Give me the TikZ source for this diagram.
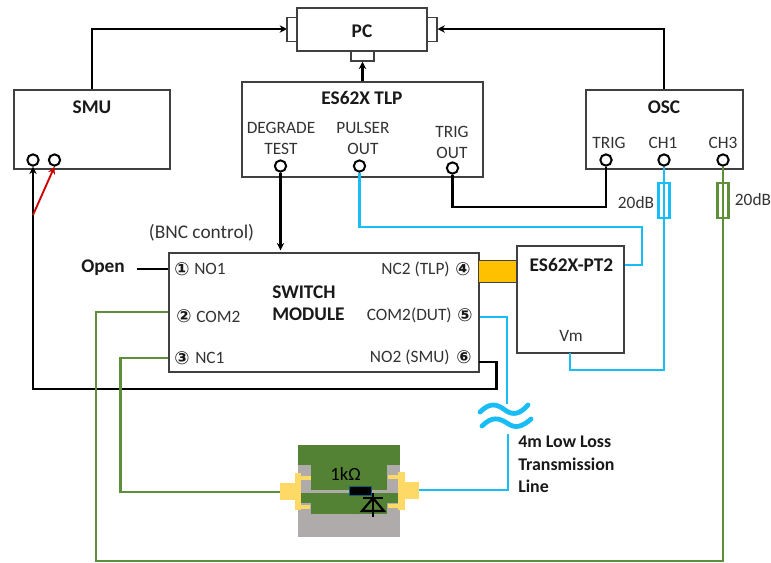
\documentclass[tikz,border=0pt]{standalone}
\usepackage{fontspec}
\setmainfont{Carlito}
\newfontfamily\symf{DejaVu Sans}
\usetikzlibrary{arrows.meta}
\definecolor{cy}{HTML}{19BDF5}
\definecolor{gr}{HTML}{5E8F3A}
\definecolor{pcb}{HTML}{548235}
\definecolor{gy}{HTML}{AFABAB}
\definecolor{au}{HTML}{FFD966}
\definecolor{or}{HTML}{FFC000}
\definecolor{bx}{HTML}{404040}
\newcommand{\circd}[1]{{\symf\bfseries\fontsize{13.5pt}{14pt}\selectfont #1}}
\tikzset{
 box/.style={draw=bx,line width=1.1pt,fill=white,inner sep=0pt},
 blk/.style={draw=black,line width=1.7pt},
 cyl/.style={draw=cy,line width=2.1pt},
 grl/.style={draw=gr,line width=1.8pt},
 term/.style={circle,draw=black,line width=1.5pt,fill=white,minimum size=8.5pt,inner sep=0pt},
 lab/.style={font=\fontsize{13pt}{15pt}\selectfont,text=black!80,inner sep=0pt},
 bold/.style={font=\fontsize{14.5pt}{17pt}\selectfont\bfseries,text=black!90,inner sep=0pt,align=center},
 tip/.style={-{Stealth[length=5.5pt,width=5.5pt]}},
 cnum/.style={inner sep=0pt,text=black!90}
}
\begin{document}
\begin{tikzpicture}[x=0.75pt,y=-0.75pt]
\useasboundingbox (0,0) rectangle (771,562);
% wires under boxes
\coordinate (smuTop) at (92,91);\coordinate (oscTop) at (664,91);
\draw[blk,tip] (smuTop) |- (287,29);
\draw[blk,tip] (oscTop) |- (437.5,29);
% boxes
\node[box,minimum width=7.5pt,minimum height=18pt] (pl) at (292,29.5) {};
\node[box,minimum width=7.5pt,minimum height=18pt] (pr) at (432,29.5) {};
\node[box,minimum width=17.5pt,minimum height=7.5pt] (pb) at (362.5,56) {};
\node[box,minimum width=97.5pt,minimum height=32.5pt] (pc) at (362,29.5) {};
\node[bold] at (362,31) {PC};
\node[box,minimum width=117pt,minimum height=59pt] (smu) at (92,129.5) {};
\node[bold] at (92,107) {SMU};
\node[box,minimum width=181pt,minimum height=71.25pt] (tlp) at (362.5,129.5) {};
\node[bold] at (362,98) {ES62X TLP};
\node[box,minimum width=117.75pt,minimum height=59pt] (osc) at (664.5,129.5) {};
\node[bold] at (664,107) {OSC};
\draw[blk,tip] (tlp.north) -- (pb.south);
\node[lab] at (281,128) {DEGRADE};
\node[lab] at (281,149) {TEST};
\node[lab] at (363,128) {PULSER};
\node[lab] at (363,149) {OUT};
\node[lab] at (452,132) {TRIG};
\node[lab] at (452,153) {OUT};
\node[lab] at (609,143) {TRIG};
\node[lab] at (663,143) {CH1};
\node[lab] at (723,143) {CH3};
% switch
\node[box,minimum width=232.5pt,minimum height=89.25pt] (sw) at (324,312.5) {};
\node[box,minimum width=80.25pt,minimum height=80.25pt] (pt) at (570.5,299.5) {};
\node[bold] at (571.5,265) {ES62X-PT2};
\node[lab] at (571,336) {Vm};
\node[draw=bx,line width=.7pt,fill=or,minimum width=29pt,minimum height=16.5pt,inner sep=0pt] (conn) at (497.5,271) {};
\node[bold,anchor=west] at (272,292) {SWITCH};
\node[bold,anchor=west] at (272,314) {MODULE};
\node[cnum] at (182,269) {\circd{①}};
\node[lab,anchor=west] at (194,269) {NO1};
\node[cnum] at (184,316) {\circd{②}};
\node[lab,anchor=west] at (196,317) {COM2};
\node[cnum] at (182,358) {\circd{③}};
\node[lab,anchor=west] at (195,358) {NC1};
\node[cnum] at (463,269) {\circd{④}};
\node[lab,anchor=east] at (450,269) {NC2 (TLP)};
\node[cnum] at (465,315) {\circd{⑤}};
\node[lab,anchor=east] at (452,315) {COM2(DUT)};
\node[cnum] at (464,357) {\circd{⑥}};
\node[lab,anchor=east] at (450,357) {NO2 (SMU)};
\node[lab,font=\fontsize{14.5pt}{16pt}\selectfont] at (201.5,233) {(BNC control)};
\node[bold,anchor=west] (open) at (81,268) {Open};
\coordinate (openEnd) at (137,269);
\draw[black,line width=1.2pt] (openEnd) -- (168,269);
% terminals
\node[term] (s1) at (33,160) {};
\node[term] (s2) at (54.5,160) {};
\node[term] (t1) at (280.5,166) {};
\node[term] (t2) at (359.5,166) {};
\node[term] (t3) at (452.5,168) {};
\node[term] (o1) at (606,160) {};
\node[term] (o2) at (664,160) {};
\node[term] (o3) at (723,160) {};
% other wires
\draw[blk,tip,shorten >=1.5pt] (t1.south) -- (t1.south|-sw.north);
\draw[blk] (o1.south) |- (452.5,207) -- (t3.south);
\draw[blk,tip] (479,362) -| (496.5,389) -| (s1.south);
\draw[draw=red!80!black,line width=1.4pt,tip] (33,215) -- (s2.south);
\draw[cyl] (t2.south) |- (642,227) |- (pt.east|-0,265);
\draw[cyl] (o2.south) -- (664,370) -| (570,353);
\draw[cyl] (480,317) -- (507,317) -- (507,404);
\draw[cyl] (508,434) |- (419,490);
\node[draw=cy,line width=1.9pt,fill=white,minimum width=8pt,minimum height=26pt,inner sep=0pt] (att1) at (664,200.5) {};
\draw[cyl] (att1.north) -- (att1.south);
\draw[grl] (o3.south) -- (723,561) -- (96,561) |- (168,312);
\node[draw=gr,line width=1.9pt,fill=white,minimum width=8pt,minimum height=26pt,inner sep=0pt] (att3) at (723,200.5) {};
\draw[grl] (att3.north) -- (att3.south);
\draw[grl] (168,358) -| (120.5,492) -- (280,492);
\node[lab] at (636,203) {20dB};
\node[lab] at (753,200) {20dB};
% tilde
\draw[cy,line width=3.6pt,line cap=round] (480,412) .. controls (490,402) and (497,404) .. (505,410) .. controls (513,416) and (520,414) .. (528,405);
\draw[cy,line width=3.6pt,line cap=round] (482,426) .. controls (492,416) and (499,418) .. (507,423) .. controls (515,429) and (522,427) .. (531,419);
\node[bold,anchor=west,font=\fontsize{13.4pt}{16pt}\selectfont\bfseries] at (518,442) {4m Low Loss};
\node[bold,anchor=west,font=\fontsize{13.4pt}{16pt}\selectfont\bfseries] at (518,464) {Transmission};
\node[bold,anchor=west,font=\fontsize{13.4pt}{16pt}\selectfont\bfseries] at (518,486) {Line};
% DUT
\fill[gy] (298,445) rectangle (400,537);
\fill[pcb] (298,445) rectangle (400,465);
\fill[pcb] (311,465) rectangle (387,514);
\fill[pcb] (298,492) rectangle (400,503);
\fill[au] (280,483) rectangle (301,500);
\fill[au] (295,473) rectangle (301,510);
\fill[au] (301,476) rectangle (311,480);
\fill[au] (301,505) rectangle (310,509);
\fill[au] (398,472) rectangle (405,510);
\fill[au] (405,482) rectangle (419,499);
\fill[au] (388,475) rectangle (398,479);
\fill[au] (388,504) rectangle (398,508);
\fill[gy] (301,489.5) rectangle (398,492.5);
\fill[black,draw=cy!50!black,line width=.4pt] (349,486) rectangle (371,495);
\node[font=\fontsize{14pt}{16pt}\selectfont,text=black,inner sep=0pt] at (345.5,474) {1kΩ};
\draw[black,line width=1.6pt] (373,493) -- (373,517);
\draw[black,line width=1.6pt] (363,498) -- (383,498);
\draw[black,line width=1.6pt] (373,498) -- (362,511) -- (384,511) -- cycle;
\end{tikzpicture}
\end{document}
